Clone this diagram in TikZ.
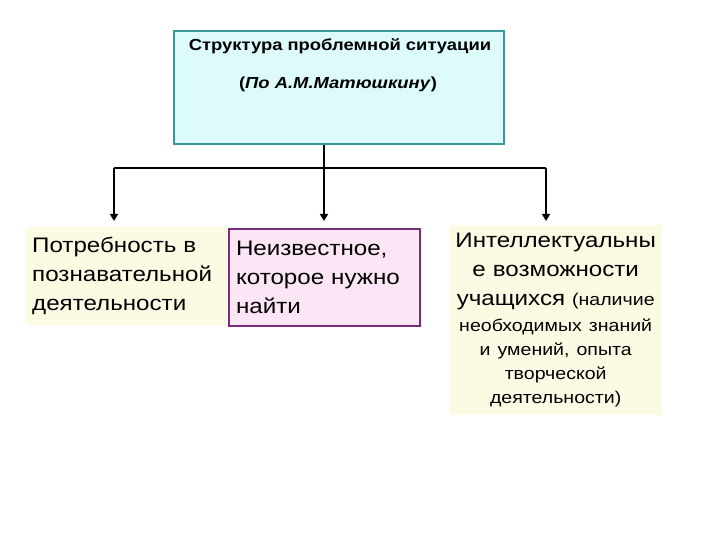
\documentclass[tikz,border=0pt]{standalone}
\usepackage{fontspec}
\setmainfont[FakeStretch=1.15]{Liberation Sans}
\usetikzlibrary{positioning}
\usetikzlibrary{arrows.meta}
\definecolor{cyanfill}{RGB}{221,251,251}
\definecolor{tealline}{RGB}{58,152,152}
\definecolor{creamfill}{RGB}{253,250,228}
\definecolor{pinkfill}{RGB}{252,229,245}
\definecolor{purpleline}{RGB}{122,44,124}

\begin{document}
\begin{tikzpicture}[x=1pt,y=1pt,
	topbox/.style={draw=tealline, line width=2pt, fill=cyanfill, minimum width=330, minimum height=113, anchor=north west, inner sep=0},
	titletext/.style={font=\fontsize{16}{19}\selectfont\bfseries, anchor=base, inner sep=0},
	creambox/.style={fill=creamfill, anchor=north west, inner xsep=7, inner ysep=0},
	pinkbox/.style={draw=purpleline, line width=2pt, fill=pinkfill, anchor=north west, inner xsep=7, inner ysep=0},
	bigtext/.style={font=\fontsize{21}{29}\selectfont},
	line/.style={line width=2pt},
	arr/.style={line width=2pt, -{Triangle[length=7pt,width=8pt]}}]
	%% page frame
	\useasboundingbox (0,0) rectangle (720,-540);

	% heading box
	\node[topbox] (top) at (173,-30) {};
	\node[titletext] (title) at (340,-51) {Структура проблемной ситуации};
	\node[titletext] (author) at (338,-89) {(\textit{По А.М.Матюшкину})};

	% three parts
	\node[creambox, bigtext, text width=188, minimum height=98, align=left] (need) at (25,-227)
		{Потребность в\\познавательной\\деятельности};
	\node[pinkbox, bigtext, text width=177, minimum height=97, align=left] (unknown) at (228,-228)
		{Неизвестное,\\которое нужно\\найти};
	\node[creambox, bigtext, text width=205, inner xsep=4, minimum height=190, align=center] (ability) at (449,-225)
		{Интеллектуальны\\е возможности\\учащихся {\fontsize{17}{23}\selectfont(наличие}\\[-3pt]
		{\fontsize{17}{23}\selectfont необходимых знаний}\\[-5pt]
		{\fontsize{17}{23}\selectfont и умений, опыта}\\[-5pt]
		{\fontsize{17}{23}\selectfont творческой}\\[-5pt]
		{\fontsize{17}{23}\selectfont деятельности)}};

	% connectors
	\coordinate (bus) at (324,-168);
	\coordinate (inL) at (114,-221);
	\coordinate (inM) at (324,-221);
	\coordinate (inR) at (546,-221);
	\draw[line] (top.south -| bus) -- (bus);
	\draw[line] (inL |- bus) -- (inR |- bus);
	\foreach \c in {inL,inM,inR}
		\draw[arr] (\c |- bus) -- (\c);

\end{tikzpicture}
\end{document}
